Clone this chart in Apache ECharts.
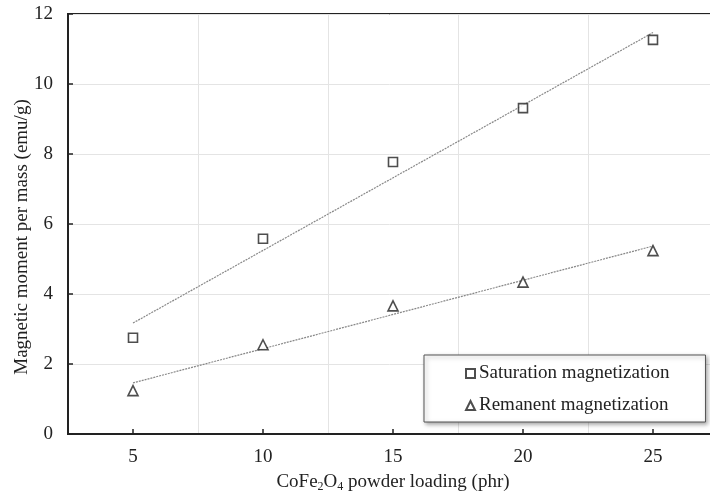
<!DOCTYPE html>
<html><head><meta charset="utf-8">
<script src="https://cdn.jsdelivr.net/npm/echarts@6/dist/echarts.min.js"></script>
<style>html,body{margin:0;padding:0;background:#fff}#c{width:710px;height:497px}</style>
</head><body><div id="c"></div>
<script>
var loadings = [5, 10, 15, 20, 25];
var saturation = [2.75, 5.58, 7.77, 9.31, 11.26];
var remanent = [1.24, 2.55, 3.66, 4.34, 5.24];
var fitX = [5, 25];
var saturationFit = [3.17, 11.47];
var remanentFit = [1.46, 5.37];
var xTickLabels = [5, 10, 15, 20, 25];
var yTicks = [0, 2, 4, 6, 8, 10, 12];

function pairs(xs, ys) { return xs.map(function (x, i) { return [x, ys[i]]; }); }

var font = 'Liberation Serif';
var chart = echarts.init(document.getElementById('c'));
chart.setOption({
  animation: false,
  backgroundColor: '#fff',
  grid: { left: 68, top: 14, width: 650, bottom: 63, outerBoundsMode: 'none', containLabel: false,
          show: true, borderColor: '#222', borderWidth: 2, backgroundColor: 'transparent' },
  xAxis: [{
    type: 'value', min: 2.5, max: 27.5, interval: 2.5,
    axisLine: { show: true, lineStyle: { color: '#222', width: 2 } },
    axisTick: { show: true, inside: true, length: 5, customValues: xTickLabels, lineStyle: { color: '#222', width: 1.5 } },
    axisLabel: { customValues: xTickLabels, color: '#222', fontFamily: font, fontSize: 19, margin: 14 },
    splitLine: { show: false },
    name: '{n|CoFe}{s|2}{n|O}{s|4}{n| powder loading (phr)}',
    nameLocation: 'middle', nameGap: 38,
    nameTextStyle: { rich: {
      n: { fontFamily: font, fontSize: 19, color: '#222' },
      s: { fontFamily: font, fontSize: 12, color: '#222', verticalAlign: 'bottom', padding: [9, 0, 0, 0] }
    } }
  }, {
    type: 'value', min: 2.5, max: 27.5, interval: 2.5, position: 'bottom',
    axisLine: { show: false }, axisTick: { show: false }, axisLabel: { show: false },
    splitLine: { show: true, lineStyle: { color: ['#e4e4e4', 'rgba(0,0,0,0)'], width: 1 } }
  }],
  yAxis: {
    type: 'value', min: 0, max: 12, interval: 2,
    axisLine: { show: true, lineStyle: { color: '#222', width: 2 } },
    axisTick: { show: true, inside: true, length: 5, lineStyle: { color: '#222', width: 1.5 } },
    axisLabel: { color: '#222', fontFamily: font, fontSize: 19, margin: 15 },
    splitLine: { show: true, lineStyle: { color: '#e4e4e4', width: 1 } },
    name: 'Magnetic moment per mass (emu/g)', nameLocation: 'middle', nameGap: 36, nameMoveOverlap: false,
    nameTextStyle: { fontFamily: font, fontSize: 19, color: '#222', padding: [0, 26, 0, 0] }
  },
  legend: {
    orient: 'vertical', left: 424, top: 355,
    padding: [9, 36, 7, 41], itemGap: 13, itemWidth: 9, itemHeight: 9,
    backgroundColor: '#fff', borderColor: '#555', borderWidth: 1,
    shadowBlur: 4, shadowColor: 'rgba(0,0,0,0.35)', shadowOffsetX: 2, shadowOffsetY: 2,
    textStyle: { fontFamily: font, fontSize: 19, color: '#222', padding: [0, 0, 0, -1] },
    data: ['Saturation magnetization', 'Remanent magnetization']
  },
  series: [{
    name: 'Saturation magnetization', type: 'scatter', symbol: 'rect', symbolSize: 9,
    itemStyle: { color: '#fff', borderColor: '#222', borderWidth: 1.6 },
    data: pairs(loadings, saturation), z: 5
  }, {
    name: 'Remanent magnetization', type: 'scatter', symbol: 'triangle', symbolSize: 10,
    itemStyle: { color: '#fff', borderColor: '#222', borderWidth: 1.6 },
    data: pairs(loadings, remanent), z: 5
  }, {
    name: 'satFit', type: 'line', symbol: 'none', silent: true,
    lineStyle: { color: '#888', width: 1.2, type: [2, 1] },
    data: pairs(fitX, saturationFit), z: 3
  }, {
    name: 'remFit', type: 'line', symbol: 'none', silent: true,
    lineStyle: { color: '#888', width: 1.2, type: [2, 1] },
    data: pairs(fitX, remanentFit), z: 3
  }]
});
</script>
</body></html>
